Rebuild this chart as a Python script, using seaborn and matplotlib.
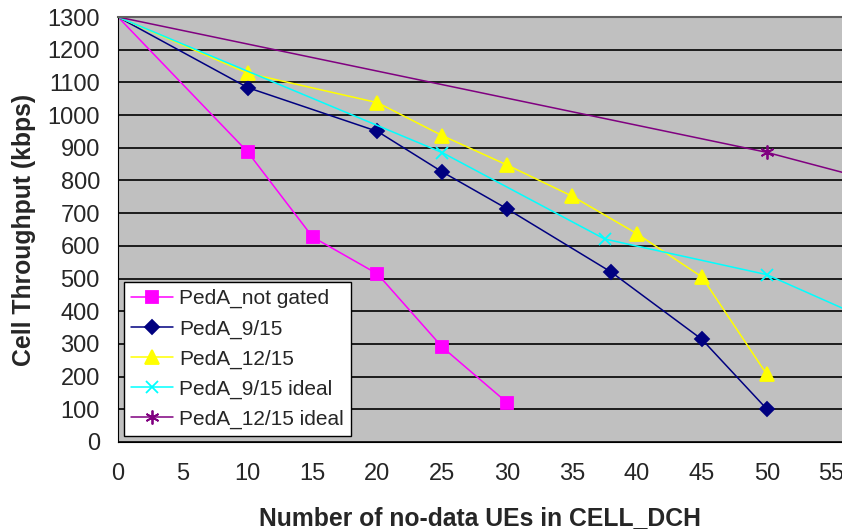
"""Cell throughput vs. number of no-data UEs in CELL_DCH (PedA channel)."""
import matplotlib
matplotlib.use("Agg")
import matplotlib.pyplot as plt
import seaborn as sns

# Series values
NOT_GATED_X = [0, 10, 15, 20, 25, 30]
NOT_GATED_Y = [1300, 887, 627, 514, 290, 120]

G9_X = [0, 10, 20, 25, 30, 38, 45, 50]
G9_Y = [1300, 1084, 950, 826, 713, 520, 314, 101]

G12_X = [0, 10, 20, 25, 30, 35, 40, 45, 50]
G12_Y = [1300, 1128, 1038, 937, 847, 752, 637, 505, 207]

G9_IDEAL_X = [0, 25, 37.5, 50, 60]
G9_IDEAL_Y = [1300, 885, 621, 512, 336]

G12_IDEAL_X = [0, 50, 60]
G12_IDEAL_Y = [1300, 886, 781]

SERIES = [
    ("PedA_not gated", NOT_GATED_X, NOT_GATED_Y, "#FF00FF", "s", 8),
    ("PedA_9/15", G9_X, G9_Y, "#000080", "D", 7),
    ("PedA_12/15", G12_X, G12_Y, "#FFFF00", "^", 10),
    ("PedA_9/15 ideal", G9_IDEAL_X, G9_IDEAL_Y, "#00FFFF", "x", 9),
    ("PedA_12/15 ideal", G12_IDEAL_X, G12_IDEAL_Y, "#800080", (6, 2, 0), 10),
]

sns.set_style("white")
plt.rcParams["font.family"] = ["Liberation Sans", "DejaVu Sans"]

fig = plt.figure(figsize=(8.42, 5.31), dpi=100)
ax = fig.add_axes([118 / 842, 89 / 531, 724 / 842, 425 / 531])
ax.set_facecolor("#C0C0C0")

handles = []
for name, xs, ys, color, marker, size in SERIES:
    sns.lineplot(x=xs, y=ys, ax=ax, color=color, marker=marker, markersize=size,
                 markeredgecolor=color, markeredgewidth=1.3, linewidth=1.1,
                 markevery=list(range(1, len(xs))), label=name, legend=False)
    handles.append(ax.lines[-1])

ax.set_xlim(0, 55.8)
ax.set_ylim(0, 1300)
ax.set_xticks(range(0, 60, 5))
ax.set_yticks(range(0, 1400, 100))
ax.yaxis.grid(True, color="black", linewidth=1.2)
ax.set_axisbelow(True)

ax.spines["right"].set_visible(False)
ax.spines["top"].set_color("#606060")
ax.spines["top"].set_linewidth(1.5)
ax.spines["left"].set_color("black")
ax.spines["bottom"].set_color("black")
ax.tick_params(direction="out", length=5.5, width=1, color="black",
               labelsize=17, pad=7.5)
ax.tick_params(axis="x", pad=9.5)

ax.set_xlabel("Number of no-data UEs in CELL_DCH", fontsize=17.8,
              fontweight="bold", labelpad=15.5)
ax.set_ylabel("Cell Throughput (kbps)", fontsize=17.8, fontweight="bold",
              labelpad=8)

leg = ax.legend(handles=handles, loc="lower left", bbox_to_anchor=(0.008, 0.014),
                borderaxespad=0, fontsize=15, frameon=True, fancybox=False,
                handlelength=2.0, handletextpad=0.3, labelspacing=0.52,
                borderpad=0.35)
leg.get_frame().set_edgecolor("black")
leg.get_frame().set_linewidth(1.0)
leg.get_frame().set_facecolor("white")
leg.get_frame().set_alpha(1)

fig.savefig("out.png", dpi=100)
